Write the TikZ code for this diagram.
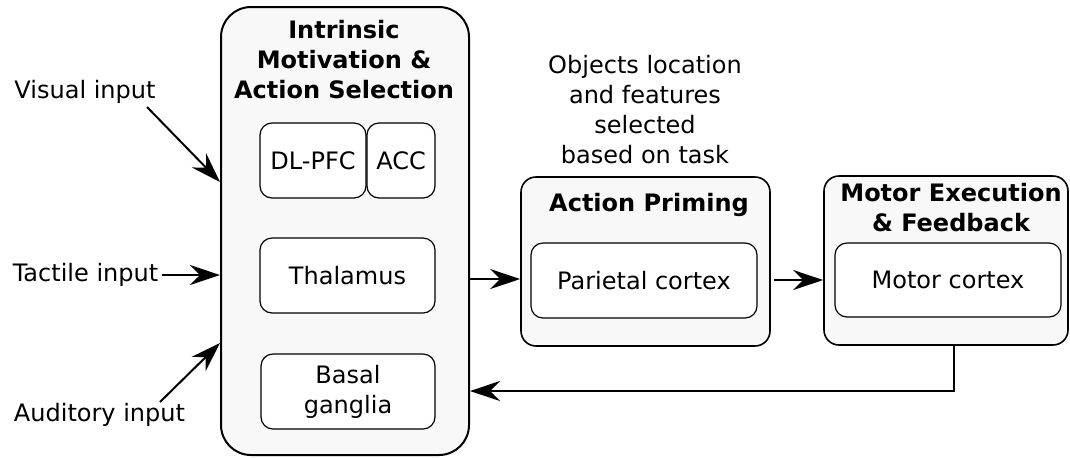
\documentclass[tikz,border=0pt]{standalone}
\usepackage{fontspec}
\setmainfont{DejaVu Sans}
\usetikzlibrary{arrows.meta,calc}
\definecolor{panel}{HTML}{F8F8F8}
\tikzset{
  every node/.style={font=\fontsize{12}{15}\selectfont},
  outerbox/.style={draw=black, line width=0.8pt, fill=panel, rounded corners=7.5pt, inner sep=0pt},
  innerbox/.style={draw=black, line width=0.6pt, fill=white, rounded corners=6pt, inner sep=0pt, align=center},
  title/.style={font=\fontsize{12}{15}\selectfont\bfseries, align=center, inner sep=0pt},
  lbl/.style={inner sep=0pt, align=center},
  arr/.style={line width=1pt, -{Stealth[length=15pt, width=10pt, inset=5pt]}},
}
\begin{document}
\begin{tikzpicture}[x=0.5pt, y=-0.5pt]
\useasboundingbox (0,0) rectangle (1070,457);
% main panel
\node[outerbox, rounded corners=15pt, line width=1pt, minimum width=124pt, minimum height=224pt] (big) at (345,231) {};
\node[title] (bigt) at (344,60) {Intrinsic\\Motivation \&\\Action Selection};
\node[innerbox, minimum width=53pt, minimum height=37.5pt] (dlpfc) at (313,160.5) {DL-PFC};
\node[innerbox, minimum width=34pt, minimum height=37.5pt] (acc) at (401,160.5) {ACC};
\node[innerbox, minimum width=87.5pt, minimum height=37.5pt] (thal) at (347.5,275.5) {Thalamus};
\node[innerbox, minimum width=87pt, minimum height=37.5pt] (bg) at (348,391.5) {Basal\\ganglia};
% action priming
\node[outerbox, minimum width=124.5pt, minimum height=84.5pt] (ap) at (645.5,261.5) {};
\node[title] (apt) at (649,205) {Action Priming};
\node[innerbox, minimum width=113pt, minimum height=37.5pt] (par) at (644,280.5) {Parietal cortex};
% motor execution
\node[outerbox, minimum width=122pt, minimum height=84.5pt] (me) at (946,260.5) {};
\node[title] (met) at (951,208) {Motor Execution\\\& Feedback};
\node[innerbox, minimum width=113pt, minimum height=37pt] (mc) at (948,280) {Motor cortex};
% free text
\node[lbl] (obj) at (645,110) {Objects location\\and features\\selected\\based on task};
\node[lbl] (vis) at (85,92) {Visual input};
\node[lbl] (tac) at (85.5,275) {Tactile input};
\node[lbl] (aud) at (99.5,415) {Auditory input};
% input arrows
\coordinate (vs) at (147,107);
\coordinate (ve) at (220,182);
\coordinate (as) at (160,402);
\coordinate (ae) at (220,343);
\draw[arr] (vs) -- (ve);
\draw[arr] ([xshift=1.5pt]tac.east) -- (big.west |- tac);
\draw[arr] (as) -- (ae);
% flow arrows
\draw[arr] (big.east |- 0,279) -- (ap.west |- 0,279);
\draw[arr] ([xshift=1.5pt]ap.east |- 0,280) -- (me.west |- 0,280);
\draw[arr] ([xshift=4.2pt]me.south) |- ($(big.east)+(0,160)$);
\end{tikzpicture}
\end{document}
